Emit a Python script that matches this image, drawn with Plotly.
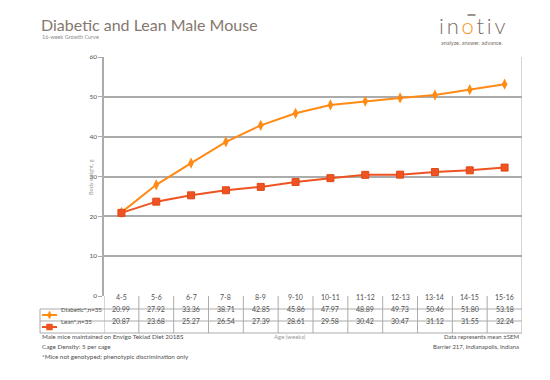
import plotly.graph_objects as go

categories = ["4-5", "5-6", "6-7", "7-8", "8-9", "9-10", "10-11", "11-12", "12-13", "13-14", "14-15", "15-16"]
diabetic = [20.99, 27.92, 33.36, 38.71, 42.85, 45.86, 47.97, 48.89, 49.73, 50.46, 51.80, 53.18]
lean = [20.87, 23.68, 25.27, 26.54, 27.39, 28.61, 29.58, 30.42, 30.47, 31.12, 31.55, 32.24]
series_names = ["Diabetic*,n=35", "Lean*,n=35"]
y_ticks = [0, 10, 20, 30, 40, 50, 60]

W, H = 550, 380
OFF = 8  # page body margin
L, R, T, B = 104, 522, 57, 296
C_DIA = "#FF8A14"
C_LEAN = "#EE5321"
GRID = "#ABABAB"
TXT = "#505050"
FONT = "Lato"


def px(x):
    return (x - L) / (R - L)


def py(y):
    return (B - y) / (B - T)


fig = go.Figure()
fig.add_trace(go.Scatter(x=list(range(len(categories))), y=diabetic, mode="lines+markers",
                         line=dict(color=C_DIA, width=2),
                         marker=dict(symbol="diamond-tall", size=8, color=C_DIA),
                         name=series_names[0], showlegend=False))
fig.add_trace(go.Scatter(x=list(range(len(categories))), y=lean, mode="lines+markers",
                         line=dict(color=C_LEAN, width=2),
                         marker=dict(symbol="square", size=7, color=C_LEAN,
                                     line=dict(color="#E0481A", width=1)),
                         name=series_names[1], showlegend=False))

shapes = []
ann = []

# table rows
row_lines = [309, 321, 333]
for yy in row_lines:
    shapes.append(dict(type="line", xref="paper", yref="paper", x0=px(40), x1=px(R),
                       y0=py(yy), y1=py(yy), line=dict(color=GRID, width=1)))
# vertical column boundaries
for k in range(len(categories) + 1):
    shapes.append(dict(type="line", xref="x", yref="paper", x0=k - 0.5, x1=k - 0.5,
                       y0=py(333), y1=py(B) if k < len(categories) else 1,
                       line=dict(color=GRID, width=1)))
shapes.append(dict(type="line", xref="paper", yref="paper", x0=px(40), x1=px(40),
                   y0=py(309), y1=py(333), line=dict(color=GRID, width=1)))

row_y = [303, 315, 327]
for i, c in enumerate(categories):
    ann.append(dict(x=i, y=py(row_y[0]), xref="x", yref="paper", text=c, showarrow=False,
                    font=dict(size=7, color=TXT, family=FONT)))
    ann.append(dict(x=i, y=py(row_y[1]), xref="x", yref="paper", text=f"{diabetic[i]:.2f}",
                    showarrow=False, font=dict(size=7, color=TXT, family=FONT)))
    ann.append(dict(x=i, y=py(row_y[2]), xref="x", yref="paper", text=f"{lean[i]:.2f}",
                    showarrow=False, font=dict(size=7, color=TXT, family=FONT)))

# legend keys in table
for j, (col, yy) in enumerate([(C_DIA, row_y[1]), (C_LEAN, row_y[2])]):
    shapes.append(dict(type="line", xref="paper", yref="paper", x0=px(42), x1=px(57),
                       y0=py(yy), y1=py(yy), line=dict(color=col, width=2)))
    if j == 0:
        shapes.append(dict(type="path", xref="paper", yref="paper",
                           path=f"M {px(49.5)},{py(yy-4)} L {px(51.5)},{py(yy)} L {px(49.5)},{py(yy+4)} L {px(47.5)},{py(yy)} Z",
                           fillcolor=col, line=dict(color=col, width=0.5)))
    else:
        shapes.append(dict(type="rect", xref="paper", yref="paper", x0=px(46.5), x1=px(52.5),
                           y0=py(yy + 3), y1=py(yy - 3), fillcolor=col, line=dict(color=col, width=0.5)))
    ann.append(dict(x=px(59), y=py(yy), xref="paper", yref="paper", xanchor="left",
                    text=series_names[j], showarrow=False,
                    font=dict(size=6.2, color=TXT, family=FONT)))

# titles
ann.append(dict(x=px(39), y=py(24), xref="paper", yref="paper", xanchor="left", yanchor="middle",
                text="Diabetic and Lean Male Mouse", showarrow=False, height=16,
                font=dict(size=16, color="#85786F", family=FONT)))
ann.append(dict(x=px(40), y=py(36.5), xref="paper", yref="paper", xanchor="left", yanchor="middle",
                text="16-week Growth Curve", showarrow=False, height=7,
                font=dict(size=5.5, color="#8A8A8A", family=FONT)))

# logo
ann.append(dict(x=px(472), y=py(25), xref="paper", yref="paper", xanchor="center", yanchor="middle",
                text="<span style='color:#7C7068'>i\u2009n\u2009</span><span style='color:#F7941D'>o</span><span style='color:#7C7068'>\u2009t\u2009i\u2009v</span>",
                showarrow=False, height=20, font=dict(size=22, family=FONT, weight=300)))
shapes.append(dict(type="line", xref="paper", yref="paper", x0=px(467.5), x1=px(475.5),
                   y0=py(15), y1=py(15), line=dict(color="#7C7068", width=1.5)))
ann.append(dict(x=px(472), y=py(42.5), xref="paper", yref="paper", xanchor="center", yanchor="middle",
                text="analyze. answer. advance.", height=7,
                showarrow=False, font=dict(size=5.5, family=FONT, color="#7C7068")))

# axis title
ann.append(dict(x=px(86), y=py(177), xref="paper", yref="paper", textangle=-90,
                text="Body weight, g", showarrow=False,
                font=dict(size=5.5, color="#9A9A9A", family=FONT)))
ann.append(dict(x=px(290), y=py(342), xref="paper", yref="paper",
                text="Age (weeks)", showarrow=False,
                font=dict(size=6, color="#9A9A9A", family=FONT)))

notes_left = ["Male mice maintained on Envigo Teklad Diet 2018S", "Cage Density: 5 per cage",
              "*Mice not genotyped; phenotypic discrimination only"]
for i, t in enumerate(notes_left):
    ann.append(dict(x=px(40), y=py(342 + 10 * i), xref="paper", yref="paper", xanchor="left",
                    text=t, showarrow=False, font=dict(size=6.3, color=TXT, family=FONT)))
notes_right = ["Data represents mean ±SEM", "Barrier 217, Indianapolis, Indiana"]
for i, t in enumerate(notes_right):
    ann.append(dict(x=px(521), y=py(342 + 10 * i), xref="paper", yref="paper", xanchor="right",
                    text=t, showarrow=False, font=dict(size=6, color=TXT, family=FONT)))

fig.update_layout(
    width=W - OFF, height=H - OFF,
    margin=dict(l=L - OFF, r=W - R, t=T - OFF, b=H - B),
    paper_bgcolor="white", plot_bgcolor="white",
    shapes=shapes, annotations=ann,
    font=dict(family=FONT, color=TXT),
    xaxis=dict(range=[-0.5, len(categories) - 0.5], showticklabels=False, showgrid=False,
               zeroline=False, showline=False, ticks=""),
    yaxis=dict(range=[0, 60], tickvals=y_ticks, showgrid=True, gridcolor=GRID, gridwidth=1.5,
               zeroline=False, showline=True, linecolor=GRID, linewidth=1.5, ticks="outside",
               ticklen=4, tickcolor=GRID, tickfont=dict(size=6.5, color=TXT, family=FONT)),
)

fig.write_html("out.html")
